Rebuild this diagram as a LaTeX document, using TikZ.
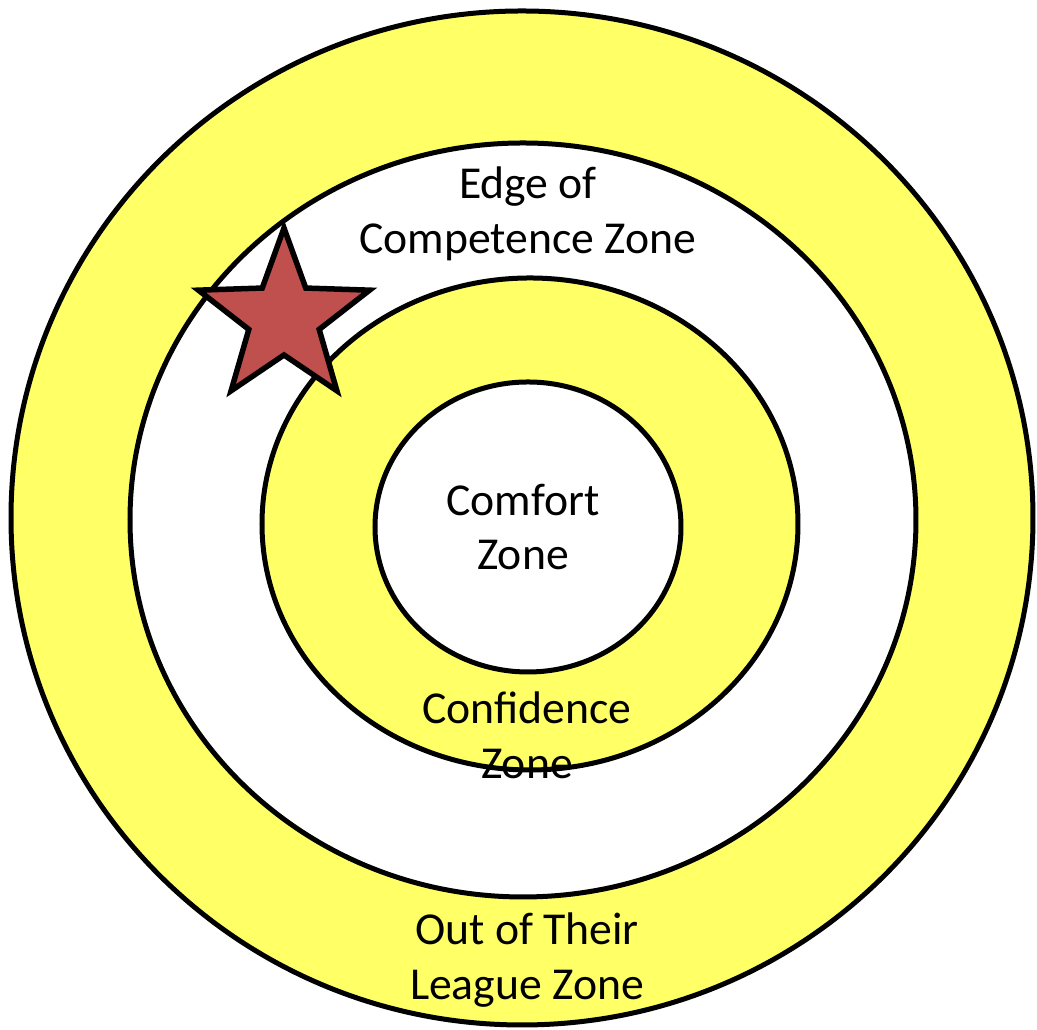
\documentclass[tikz,border=0pt]{standalone}
\usepackage{fontspec}
\setmainfont{Carlito}
\definecolor{zoneyellow}{RGB}{255,255,102}
\definecolor{starred}{RGB}{192,80,77}
\begin{document}
\begin{tikzpicture}[x=0.1mm,y=0.1mm,zonering/.style={draw=black,line width=0.5mm},zonelabel/.style={align=center,font=\fontsize{13}{15.6}\selectfont},starshape/.style={draw=black,line width=0.55mm,fill=starred,line join=miter}]
\def\ringAx{522}
\def\ringAy{512}
\def\ringBx{523}
\def\ringBy{510}
\def\ringCx{530}
\def\ringCy{506}
\def\ringDx{528}
\def\ringDy{503}
\def\starX{284}
\def\starY{712}
\def\starR{90}
\def\starr{37}

\useasboundingbox (0,0) rectangle (1037,1030);
\fill[white] (0,0) rectangle (1037,1030);

\draw[zonering,fill=zoneyellow] (\ringAx,\ringAy) ellipse [x radius=511,y radius=507];
\draw[zonering,fill=white] (\ringBx,\ringBy) ellipse [x radius=393,y radius=377];
\draw[zonering,fill=zoneyellow] (\ringCx,\ringCy) ellipse [x radius=268,y radius=246];
\draw[zonering,fill=white] (\ringDx,\ringDy) ellipse [x radius=153,y radius=145];

\draw[starshape,shift={(\starX,\starY)}] (90:\starR) \foreach \k in {1,...,9}{ -- ({90+36*\k}:{ifthenelse(mod(\k,2)==0,\starR,\starr)}) } -- cycle;

\node[zonelabel] (edge) at (528,816) {Edge of\\Competence Zone};
\node[zonelabel] (comfort) at (523,503) {Comfort\\Zone};
\node[zonelabel] (confidence) at (527,295) {Confidence\\Zone};
\node[zonelabel] (league) at (527,70) {Out of Their\\League Zone};
\end{tikzpicture}
\end{document}
